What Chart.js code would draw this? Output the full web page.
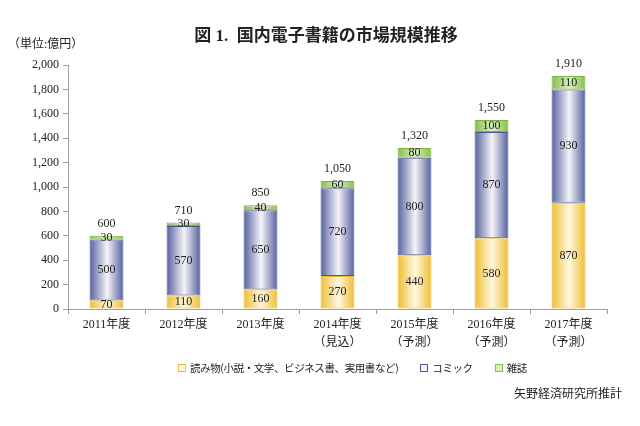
<!DOCTYPE html>
<html lang="ja">
<head>
<meta charset="utf-8">
<script src="https://cdn.jsdelivr.net/npm/chart.js@4.4.1/dist/chart.umd.min.js"></script>
<style>
  body { margin: 0; background: #fff; }
  #wrap { position: relative; width: 640px; height: 426px; font-family: "Liberation Serif", "Noto Sans CJK JP", serif; color: #222; }
  #title { position: absolute; top: 21px; left: 0; width: 652px; text-align: center; font-size: 17px; font-weight: bold; }
  #unit { position: absolute; top: 34px; left: 8px; font-size: 12px; }
  #legend { position: absolute; top: 360px; left: 178px; display: flex; font-size: 10.5px; letter-spacing: -0.4px; font-family: "Noto Sans CJK JP", sans-serif; }
  #legend .item { display: flex; align-items: center; margin-right: 22px; }
  #legend .box { width: 6px; height: 6px; border: 1.5px solid; margin-right: 4px; }
  #source { position: absolute; top: 384px; right: 18px; font-size: 12px; font-family: "Noto Sans CJK JP", sans-serif; }
</style>
</head>
<body>
<div id="wrap">
  <canvas id="chart" width="640" height="426"></canvas>
  <div id="title">図 1.&nbsp; 国内電子書籍の市場規模推移</div>
  <div id="unit">（単位:億円）</div>
  <div id="legend"></div>
  <div id="source">矢野経済研究所推計</div>
</div>
<script>
const years = [
  "2011年度",
  "2012年度",
  "2013年度",
  ["2014年度", "（見込）"],
  ["2015年度", "（予測）"],
  ["2016年度", "（予測）"],
  ["2017年度", "（予測）"]
];
const yomimono = [70, 110, 160, 270, 440, 580, 870];
const comic = [500, 570, 650, 720, 800, 870, 930];
const zasshi = [30, 30, 40, 60, 80, 100, 110];
const totals = [600, 710, 850, 1050, 1320, 1550, 1910];
const yTicks = [0, 200, 400, 600, 800, 1000, 1200, 1400, 1600, 1800, 2000];

const seriesNames = ["読み物(小説・文学、ビジネス書、実用書など)", "コミック", "雑誌"];
const barShare = 0.44;

// horizontal gradient across each bar for the cylinder look
function barGradient(edge, mid) {
  return (c) => {
    const chart = c.chart;
    const xs = chart.scales.x;
    if (!chart.chartArea || !xs || c.type !== "data") return edge;
    const cx = xs.getPixelForValue(c.dataIndex);
    const half = xs.width / years.length * barShare / 2;
    const g = chart.ctx.createLinearGradient(cx - half, 0, cx + half, 0);
    g.addColorStop(0, edge);
    g.addColorStop(0.52, mid);
    g.addColorStop(1, edge);
    return g;
  };
}

const colors = [
  { edge: "#efbd30", mid: "#fff8e0", border: "#e9b82c", legend: "#f0c040" },
  { edge: "#56609e", mid: "#f4f4f8", border: "#4a5896", legend: "#4a5896" },
  { edge: "#86bd4a", mid: "#d9efc2", border: "#7ab444", legend: "#8cc152" }
];

const valueLabels = {
  id: "valueLabels",
  afterDatasetsDraw(chart) {
    const ctx = chart.ctx;
    ctx.save();
    ctx.font = "12px 'Liberation Serif', serif";
    ctx.fillStyle = "#222";
    ctx.textAlign = "center";
    ctx.textBaseline = "middle";
    chart.data.datasets.forEach((ds, i) => {
      chart.getDatasetMeta(i).data.forEach((bar, j) => {
        const p = bar.getProps(["x", "y", "base"], true);
        ctx.fillText(ds.data[j].toLocaleString("en-US"), p.x, (p.y + p.base) / 2);
      });
    });
    const top = chart.getDatasetMeta(chart.data.datasets.length - 1).data;
    top.forEach((bar, j) => {
      const p = bar.getProps(["x", "y"], true);
      ctx.fillText(totals[j].toLocaleString("en-US"), p.x, p.y - 12);
    });
    ctx.restore();
  }
};

const datasets = [yomimono, comic, zasshi].map((data, i) => ({
  label: seriesNames[i],
  data,
  backgroundColor: barGradient(colors[i].edge, colors[i].mid),
  borderColor: colors[i].border,
  borderWidth: 1,
  borderSkipped: false,
  barPercentage: 0.55,
  categoryPercentage: 0.8
}));

new Chart(document.getElementById("chart"), {
  type: "bar",
  data: { labels: years, datasets },
  options: {
    responsive: false,
    animation: false,
    layout: { padding: { top: 65, right: 33, bottom: 67, left: 0 } },
    plugins: {
      legend: { display: false },
      tooltip: { enabled: false }
    },
    scales: {
      x: {
        stacked: true,
        afterFit: (s) => { s.height = 50; },
        border: { color: "#a0a0a0" },
        grid: { offset: true, drawOnChartArea: false, tickLength: 5, color: "#a0a0a0" },
        ticks: {
          color: "#222",
          padding: 2,
          font: { size: 12, family: "'Liberation Serif', 'Noto Sans CJK JP', serif", lineHeight: 1.5 }
        }
      },
      y: {
        stacked: true,
        min: 0,
        max: 2000,
        afterFit: (s) => { s.width = 68; },
        afterBuildTicks: (s) => { s.ticks = yTicks.map(v => ({ value: v })); },
        border: { color: "#a0a0a0" },
        grid: { drawOnChartArea: false, tickLength: 5, color: "#a0a0a0" },
        ticks: {
          color: "#222",
          padding: 4,
          font: { size: 12, family: "'Liberation Serif', serif" },
          callback: (v) => v.toLocaleString("en-US")
        }
      }
    }
  },
  plugins: [valueLabels]
});

const legendEl = document.getElementById("legend");
seriesNames.forEach((name, i) => {
  const item = document.createElement("div");
  item.className = "item";
  const box = document.createElement("span");
  box.className = "box";
  box.style.borderColor = colors[i].legend;
  box.style.background = colors[i].mid;
  const txt = document.createElement("span");
  txt.textContent = name;
  item.appendChild(box);
  item.appendChild(txt);
  legendEl.appendChild(item);
});
</script>
</body>
</html>
